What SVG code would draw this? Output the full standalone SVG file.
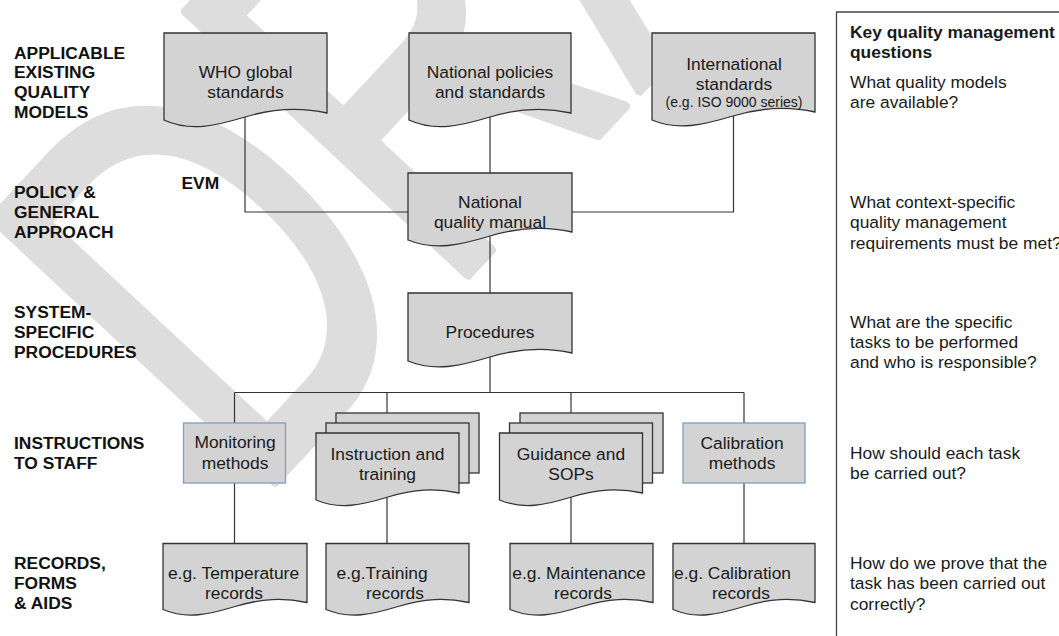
<svg xmlns="http://www.w3.org/2000/svg" width="1059" height="636" viewBox="0 0 1059 636">
<style>
  .wm { font-family: "Liberation Sans", Arial, sans-serif; fill: #dddddd; stroke: #dddddd; stroke-width: 10; stroke-linejoin: round; }
  .doc { fill: #d3d3d3; stroke: #333333; stroke-width: 1.3; }
  .meth { fill: #d3d3d3; stroke: #7f9fc4; stroke-width: 1.3; }
  .t { font-family: "Liberation Sans", Arial, sans-serif; font-size: 17.4px; fill: #1a1a1a; text-anchor: middle; }
  .ts { font-size: 14px; }
  .lab { font-family: "Liberation Sans", Arial, sans-serif; font-size: 17.4px; font-weight: bold; fill: #111111; }
  .q { font-family: "Liberation Sans", Arial, sans-serif; font-size: 17.4px; fill: #1a1a1a; }
  .qb { font-weight: bold; }
  .con { fill: none; stroke: #333333; stroke-width: 1.2; }
  .panel { fill: none; stroke: #444444; stroke-width: 1.3; }
</style>
<rect width="1059" height="636" fill="#ffffff"/>
<g id="watermark">
  <text class="wm" font-size="560" transform="translate(252,506) rotate(-47) scale(0.7,1)">DRAFT</text>
</g>
<g id="connectors">
  <path class="con" d="M245,116 V212 H408"/>
  <path class="con" d="M733.5,116 V212 H572"/>
  <path class="con" d="M490,116 V173"/>
  <path class="con" d="M490,236 V293"/>
  <path class="con" d="M490,356 V392.5"/>
  <path class="con" d="M234.5,392.5 H744"/>
  <path class="con" d="M234.5,392.5 V423"/>
  <path class="con" d="M387,392.5 V413"/>
  <path class="con" d="M571,392.5 V413"/>
  <path class="con" d="M744,392.5 V423"/>
  <path class="con" d="M234.5,483 V543.5"/>
  <path class="con" d="M387,496 V543.5"/>
  <path class="con" d="M571,496 V543.5"/>
  <path class="con" d="M744,483 V543.5"/>
</g>
<g id="labels">
  <text class="lab" x="14" y="58.5">APPLICABLE</text>
  <text class="lab" x="14" y="78.4">EXISTING</text>
  <text class="lab" x="14" y="98.3">QUALITY</text>
  <text class="lab" x="14" y="118.2">MODELS</text>
  <text class="lab" x="14" y="198.4">POLICY &amp;</text>
  <text class="lab" x="14" y="218.4">GENERAL</text>
  <text class="lab" x="14" y="238.4">APPROACH</text>
  <text class="lab" x="14" y="318.4">SYSTEM-</text>
  <text class="lab" x="14" y="338.4">SPECIFIC</text>
  <text class="lab" x="14" y="358.3">PROCEDURES</text>
  <text class="lab" x="14" y="448.7">INSTRUCTIONS</text>
  <text class="lab" x="14" y="468.8">TO STAFF</text>
  <text class="lab" x="14" y="569.2">RECORDS,</text>
  <text class="lab" x="14" y="589.3">FORMS</text>
  <text class="lab" x="14" y="609.3">&amp; AIDS</text>
  <text class="lab" x="181.5" y="189.3" font-size="20px">EVM</text>
</g>
<g id="who">
  <path class="doc" d="M164,33 h163 v80 c-27,-6 -52,-5 -82,4 c-30,9 -55,15 -81,3 z"/>
  <text class="t" x="245.5" y="78">WHO global</text>
  <text class="t" x="245.5" y="98">standards</text>
</g>
<g id="national-policies">
  <path class="doc" d="M409,33 h162 v80 c-27,-6 -52,-5 -81,4 c-30,9 -55,15 -81,3 z"/>
  <text class="t" x="490" y="78">National policies</text>
  <text class="t" x="490" y="98">and standards</text>
</g>
<g id="international">
  <path class="doc" d="M652,33 h163 v79 c-27,-6 -52,-5 -82,4 c-30,9 -55,15 -81,4 z"/>
  <text class="t" x="734" y="70">International</text>
  <text class="t" x="734" y="90">standards</text>
  <text class="t ts" x="734" y="107">(e.g. ISO 9000 series)</text>
</g>
<g id="quality-manual">
  <path class="doc" d="M408,173 h164 v59 c-27,-6 -52,-5 -82,4 c-30,9 -55,15 -82,4 z"/>
  <text class="t" x="490" y="208">National</text>
  <text class="t" x="490" y="228">quality manual</text>
</g>
<g id="procedures">
  <path class="doc" d="M408,293 h164 v60 c-27,-6 -52,-5 -82,4 c-30,9 -55,15 -82,4 z"/>
  <text class="t" x="490" y="338">Procedures</text>
</g>
<g id="monitoring-methods">
  <rect class="meth" x="183.5" y="423" width="102" height="60"/>
  <text class="t" x="235" y="448">Monitoring</text>
  <text class="t" x="235" y="468.5">methods</text>
</g>
<g id="instruction-training">
  <rect class="doc" x="336" y="413" width="143" height="60"/>
  <rect class="doc" x="326" y="423" width="143" height="60"/>
  <path class="doc" d="M316,433 h143 v60 c-24,-5 -45,-4 -71,4 c-26,8 -48,13 -72,3 z"/>
  <text class="t" x="387.5" y="459.5">Instruction and</text>
  <text class="t" x="387.5" y="479.5">training</text>
</g>
<g id="guidance-sops">
  <rect class="doc" x="520" y="413" width="143" height="60"/>
  <rect class="doc" x="509.5" y="423" width="143" height="60"/>
  <path class="doc" d="M499.5,433 h143 v60 c-24,-5 -45,-4 -71,4 c-26,8 -48,13 -72,3 z"/>
  <text class="t" x="571" y="459.5">Guidance and</text>
  <text class="t" x="571" y="479.5">SOPs</text>
</g>
<g id="calibration-methods">
  <rect class="meth" x="683" y="423" width="122" height="60"/>
  <text class="t" x="742" y="448.5">Calibration</text>
  <text class="t" x="742" y="468.5">methods</text>
</g>
<g id="temperature-records">
  <path class="doc" d="M163,543.5 h144 v59 c-24,-5 -45,-4 -72,4 c-26,8 -48,13 -72,3 z"/>
  <text class="t" x="233.5" y="578.5">e.g. Temperature</text>
  <text class="t" x="234" y="598.5">records</text>
</g>
<g id="training-records">
  <path class="doc" d="M326,543.5 h143 v59 c-24,-5 -45,-4 -71,4 c-26,8 -48,13 -72,3 z"/>
  <text class="t" x="336.5" y="578.5" style="text-anchor:start">e.g.Training</text>
  <text class="t" x="395" y="598.5">records</text>
</g>
<g id="maintenance-records">
  <path class="doc" d="M510,543.5 h143 v59 c-24,-5 -45,-4 -71,4 c-26,8 -48,13 -72,3 z"/>
  <text class="t" x="579" y="578.5">e.g. Maintenance</text>
  <text class="t" x="583" y="598.5">records</text>
</g>
<g id="calibration-records">
  <path class="doc" d="M673,543.5 h142 v59 c-24,-5 -45,-4 -71,4 c-26,8 -48,13 -71,3 z"/>
  <text class="t" x="674" y="578.5" style="text-anchor:start">e.g. Calibration</text>
  <text class="t" x="741" y="598.5">records</text>
</g>
<g id="questions-panel">
  <path class="panel" d="M1059,12 H836.5 V636"/>
  <text class="q qb" x="850" y="38">Key quality management</text>
  <text class="q qb" x="850" y="58.3">questions</text>
  <text class="q" x="850" y="88">What quality models</text>
  <text class="q" x="850" y="108">are available?</text>
  <text class="q" x="850" y="208">What context-specific</text>
  <text class="q" x="850" y="228.4">quality management</text>
  <text class="q" x="850" y="248.5">requirements must be met?</text>
  <text class="q" x="850" y="328.4">What are the specific</text>
  <text class="q" x="850" y="348.3">tasks to be performed</text>
  <text class="q" x="850" y="368.2">and who is responsible?</text>
  <text class="q" x="850" y="459">How should each task</text>
  <text class="q" x="850" y="479">be carried out?</text>
  <text class="q" x="850" y="569.4">How do we prove that the</text>
  <text class="q" x="850" y="589.4">task has been carried out</text>
  <text class="q" x="850" y="609.5">correctly?</text>
</g>
</svg>
